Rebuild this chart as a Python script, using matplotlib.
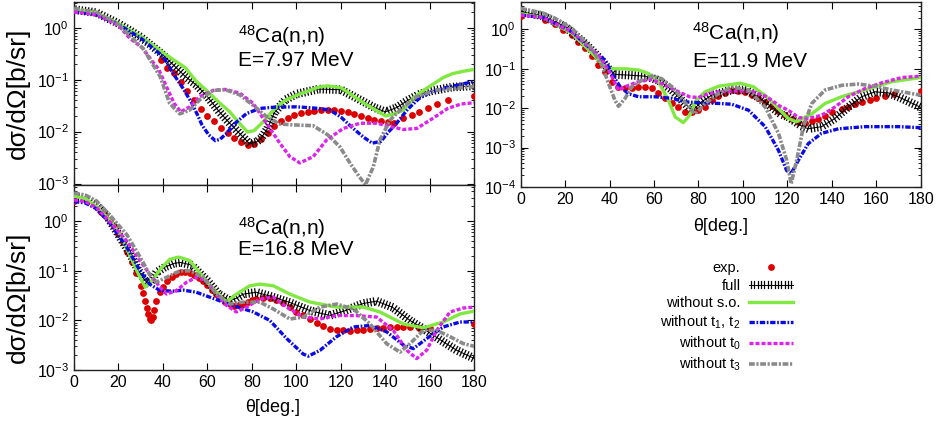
import numpy as np
import matplotlib
matplotlib.use("Agg")
import matplotlib.pyplot as plt
import matplotlib.patheffects as pe
from matplotlib.ticker import LogLocator, FixedLocator, NullFormatter

plt.rcParams['font.family'] = ['Liberation Sans', 'DejaVu Sans']
plt.rcParams['mathtext.fontset'] = 'custom'
plt.rcParams['mathtext.rm'] = 'Liberation Sans'
plt.rcParams['mathtext.it'] = 'Liberation Sans:italic'
plt.rcParams['mathtext.bf'] = 'Liberation Sans:bold'

# ---------------- 7.97 MeV (top left) ----------------
e08_exp_ang = [0, 39, 42, 45, 48, 51, 54, 57, 60, 63, 66, 69, 72, 75, 78, 81, 84, 87, 90, 93, 96, 99, 102,
               105, 108, 111, 114, 117, 120, 123, 126, 129, 132, 135, 138, 141, 144, 148, 152, 155, 159,
               163, 168, 180]
e08_exp_val = [2.2, 0.234, 0.166, 0.132, 0.091, 0.060, 0.040, 0.0275, 0.020, 0.0158, 0.012, 0.0095, 0.0076,
               0.0063, 0.0055, 0.0058, 0.0071, 0.0095, 0.0126, 0.0158, 0.0186, 0.021, 0.023, 0.024, 0.025,
               0.0257, 0.0263, 0.0257, 0.025, 0.0234, 0.0219, 0.020, 0.018, 0.0166, 0.0158, 0.0151, 0.0145,
               0.018, 0.021, 0.0234, 0.0288, 0.034, 0.041, 0.049]
e08_full_ang = [0, 10, 20, 30, 40, 50, 55, 60, 65, 70, 75, 79, 82, 84, 87, 90, 95, 100, 110, 120, 130, 135,
                140, 145, 150, 155, 160, 170, 180]
e08_full_val = [2.24, 1.95, 1.2, 0.66, 0.30, 0.115, 0.079, 0.047, 0.025, 0.0145, 0.0087, 0.0058, 0.0063,
                0.0074, 0.0115, 0.023, 0.041, 0.053, 0.066, 0.064, 0.038, 0.029, 0.024, 0.029, 0.040,
                0.052, 0.060, 0.072, 0.076]
e08_noso_ang = [0, 10, 20, 30, 40, 50, 55, 60, 65, 70, 75, 78, 81, 85, 90, 95, 100, 110, 114, 120, 130, 135,
                140, 144, 148, 152, 156, 160, 166, 170, 175, 180]
e08_noso_val = [2.24, 1.95, 1.2, 0.68, 0.33, 0.17, 0.092, 0.06, 0.037, 0.024, 0.0135, 0.0098, 0.0105,
                0.0155, 0.027, 0.040, 0.050, 0.072, 0.076, 0.070, 0.036, 0.027, 0.020, 0.022, 0.026, 0.042,
                0.058, 0.075, 0.11, 0.13, 0.145, 0.158]
e08_t12_ang = [0, 10, 20, 30, 40, 45, 49, 53, 55.5, 57.5, 60.5, 63.5, 65.6, 68.6, 71.6, 77.6, 83.6, 90, 100,
               110, 115, 120, 125, 130, 134, 138, 141, 145, 150, 155, 160, 166, 172, 180]
e08_t12_val = [2.0, 1.8, 1.15, 0.63, 0.28, 0.123, 0.068, 0.035, 0.021, 0.0135, 0.0087, 0.0067, 0.0071,
               0.0093, 0.0135, 0.0224, 0.028, 0.0295, 0.030, 0.028, 0.026, 0.019, 0.012, 0.0079, 0.006,
               0.0065, 0.0095, 0.0145, 0.027, 0.043, 0.057, 0.068, 0.078, 0.093]
e08_t0_ang = [0, 10, 20, 25, 31, 35, 38, 41.5, 45, 48, 52, 56.5, 62.5, 68, 74.5, 80.5, 86.5, 92.5, 97, 101.5,
              107.5, 113.5, 121, 128.5, 136, 142, 148, 154, 160, 168, 174, 180]
e08_t0_val = [2.0, 1.8, 1.1, 0.63, 0.40, 0.23, 0.16, 0.074, 0.035, 0.024, 0.030, 0.047, 0.062, 0.065, 0.055,
              0.035, 0.0145, 0.006, 0.0033, 0.0025, 0.0033, 0.0069, 0.0115, 0.0145, 0.0145, 0.0126, 0.011,
              0.0115, 0.0166, 0.028, 0.034, 0.036]
e08_t3_ang = [0, 10, 20, 25, 31, 35, 38.7, 43, 47.5, 52, 56.5, 62.5, 68, 74.5, 80.5, 86.5, 92.5, 98.5, 107.5,
              114, 119.5, 124, 128, 131, 134.5, 137.5, 142, 148, 154, 163, 180]
e08_t3_val = [2.35, 2.0, 1.15, 0.70, 0.40, 0.21, 0.115, 0.035, 0.022, 0.026, 0.041, 0.062, 0.064, 0.051,
              0.032, 0.0195, 0.014, 0.0135, 0.013, 0.0087, 0.0051, 0.0025, 0.0014, 0.00095, 0.0021, 0.0069,
              0.0166, 0.030, 0.047, 0.063, 0.074]

# ---------------- 16.8 MeV (bottom left) ----------------
e16_exp_ang = [0, 12, 14, 16, 18, 20, 22, 24, 26, 28, 30, 31, 32, 32.7, 33.4, 34, 34.6, 35.3, 36, 37, 38.5,
               40, 42, 44, 46, 48, 50, 52, 54, 56, 58, 60, 62, 64, 66, 68, 70, 72, 74, 76, 78, 80, 82, 85,
               88, 91, 94, 97, 100, 103, 106, 109, 112, 115, 118, 121, 124, 127, 130, 133, 136, 139, 142,
               145, 148, 151, 155, 160, 180]
e16_exp_val = [2.57, 1.55, 1.35, 1.07, 0.79, 0.56, 0.38, 0.24, 0.151, 0.091, 0.050, 0.036, 0.025, 0.018,
               0.0135, 0.0105, 0.010, 0.0115, 0.0165, 0.025, 0.038, 0.048, 0.063, 0.076, 0.087, 0.093,
               0.093, 0.089, 0.081, 0.072, 0.063, 0.051, 0.042, 0.034, 0.028, 0.024, 0.021, 0.020, 0.0204,
               0.0219, 0.024, 0.0263, 0.0275, 0.028, 0.028, 0.0263, 0.0224, 0.019, 0.0151, 0.0126, 0.0105,
               0.0087, 0.0076, 0.0068, 0.0065, 0.0063, 0.0062, 0.0063, 0.0065, 0.0068, 0.0071, 0.0072,
               0.0074, 0.0074, 0.0074, 0.0074, 0.0072, 0.0071, 0.0083]
e16_full_ang = [0, 5, 10, 15, 20, 25, 29, 32, 34, 37, 41, 45, 48, 53, 57, 60, 65, 70, 73, 76, 82, 88, 97, 106,
                115, 122, 130, 136, 143, 151, 157, 166, 172, 180]
e16_full_val = [3.1, 2.9, 2.1, 1.26, 0.54, 0.23, 0.10, 0.063, 0.055, 0.093, 0.12, 0.142, 0.148, 0.13,
                0.085, 0.063, 0.034, 0.025, 0.028, 0.034, 0.037, 0.031, 0.023, 0.0158, 0.0126, 0.0158,
                0.022, 0.0245, 0.0186, 0.010, 0.0068, 0.0037, 0.0025, 0.0017]
e16_noso_ang = [0, 5, 10, 16, 20.7, 25, 29, 32, 35, 38.7, 43, 47, 52, 58, 64, 68.6, 73, 79, 83.6, 89.6, 97,
                106, 118, 130, 137.5, 148, 157, 166, 173.5, 180]
e16_noso_val = [3.2, 2.9, 2.0, 1.07, 0.54, 0.21, 0.085, 0.047, 0.063, 0.107, 0.17, 0.19, 0.162, 0.074,
                0.037, 0.0235, 0.034, 0.050, 0.054, 0.050, 0.034, 0.0235, 0.0186, 0.0186, 0.0148, 0.0085,
                0.0071, 0.0093, 0.0135, 0.0155]
e16_t12_ang = [0, 5, 10, 16, 23.7, 29.7, 34, 38.7, 44.6, 49, 55, 61, 67, 73, 80.6, 88, 95.6, 103, 105.3,
               110.6, 118, 125.6, 133, 140.5, 148, 152.5, 158.5, 166, 173.5, 180]
e16_t12_val = [2.5, 2.35, 1.8, 0.93, 0.30, 0.10, 0.054, 0.040, 0.039, 0.041, 0.037, 0.0295, 0.0235, 0.019,
               0.0148, 0.010, 0.0043, 0.0021, 0.0019, 0.0025, 0.0047, 0.0074, 0.0079, 0.0059, 0.0032,
               0.0027, 0.0043, 0.0074, 0.0093, 0.0093]
e16_t0_ang = [0, 5, 10, 16, 23.7, 29.7, 34, 38.7, 41.6, 46, 50.6, 55, 59.6, 64, 68.6, 73, 77.6, 83.6, 89.6,
              95.6, 103, 110.6, 118, 127, 136, 143.5, 149.6, 154, 158.5, 163, 169, 175, 180]
e16_t0_val = [2.7, 2.5, 1.9, 1.0, 0.40, 0.16, 0.085, 0.047, 0.034, 0.040, 0.059, 0.074, 0.063, 0.034, 0.020,
              0.0148, 0.0186, 0.027, 0.0295, 0.0186, 0.0117, 0.0107, 0.0126, 0.0125, 0.0117, 0.0063,
              0.0025, 0.0017, 0.0025, 0.0063, 0.0148, 0.0178, 0.0186]
e16_t3_ang = [0, 5, 10, 16, 23.7, 29.7, 34, 37, 41.6, 47.6, 52, 58, 64, 70, 76, 83.6, 89.6, 97, 103, 110.6,
              118, 125.6, 133, 140.5, 146.5, 151, 157, 163, 169, 175, 180]
e16_t3_val = [3.7, 3.4, 2.6, 1.35, 0.54, 0.19, 0.085, 0.059, 0.074, 0.10, 0.10, 0.074, 0.034, 0.0214,
              0.0234, 0.0234, 0.017, 0.0107, 0.0117, 0.0186, 0.0214, 0.017, 0.0085, 0.0034, 0.0023,
              0.0034, 0.0063, 0.0063, 0.0047, 0.0034, 0.0030]

# ---------------- 11.9 MeV (right) ----------------
e11_exp_ang = [0, 11, 15.5, 19, 23, 26, 29, 32, 35, 38, 41, 44, 47, 50, 53, 56, 59, 62, 65, 68, 71, 74, 77,
               80, 83, 86, 89, 92, 95, 98, 101, 104, 107, 110, 113, 116, 119, 122, 125, 128, 131, 134,
               137, 140, 144.4, 147.4, 150.4, 153.4, 157, 160, 164, 168, 180]
e11_exp_val = [2.2, 1.78, 1.38, 0.95, 0.72, 0.49, 0.33, 0.21, 0.126, 0.083, 0.047, 0.034, 0.0316, 0.033,
               0.0355, 0.0355, 0.0316, 0.024, 0.0178, 0.0138, 0.0107, 0.0079, 0.0079, 0.0089, 0.011,
               0.0158, 0.020, 0.025, 0.029, 0.028, 0.026, 0.0219, 0.018, 0.0145, 0.0112, 0.0087, 0.0066,
               0.0052, 0.0045, 0.0041, 0.0046, 0.0054, 0.0065, 0.0079, 0.0093, 0.0107, 0.0126, 0.0145,
               0.0166, 0.0178, 0.0204, 0.0234, 0.0275]
e11_full_ang = [0, 10, 20, 29, 35, 39.5, 42.4, 48.5, 56, 62, 68, 72.5, 76, 77.5, 81.4, 86, 95.7, 101.7, 109,
                116.7, 120.4, 126.4, 129.4, 135.4, 141.4, 147.4, 153.4, 159.4, 165.4, 171.4, 180]
e11_full_val = [2.8, 2.2, 1.17, 0.44, 0.20, 0.10, 0.072, 0.069, 0.065, 0.051, 0.029, 0.0158, 0.010, 0.0089,
                0.0145, 0.0214, 0.0295, 0.0288, 0.0158, 0.0072, 0.0060, 0.0035, 0.0030, 0.0034, 0.0055,
                0.0107, 0.0195, 0.026, 0.0245, 0.0178, 0.0105]
e11_noso_ang = [0, 10, 23, 32, 38, 41, 47, 53, 57.5, 62, 66.5, 69.5, 73.2, 76, 79, 83, 89, 98.7, 104.7,
                110.7, 116.7, 120.4, 124, 131, 137, 144.4, 152, 159.4, 167, 180]
e11_noso_val = [2.5, 2.0, 0.80, 0.25, 0.11, 0.10, 0.10, 0.093, 0.076, 0.047, 0.0158, 0.0060, 0.0043,
                0.0066, 0.0158, 0.026, 0.036, 0.043, 0.035, 0.0195, 0.0089, 0.0055, 0.0045, 0.0072, 0.0132,
                0.0195, 0.026, 0.035, 0.047, 0.060]
e11_t12_ang = [0, 10, 23, 32, 38, 41, 44.7, 48.5, 53, 60.4, 68, 74, 80, 89, 95, 102.5, 110, 116, 119.7,
               121.7, 125, 129.4, 135.4, 143, 155, 170, 180]
e11_t12_val = [2.3, 2.0, 0.87, 0.30, 0.166, 0.076, 0.035, 0.0234, 0.0195, 0.0195, 0.0178, 0.0145, 0.0138,
               0.0132, 0.0126, 0.0089, 0.0034, 0.00085, 0.00026, 0.00022, 0.00048, 0.00126, 0.0023,
               0.0030, 0.0034, 0.0034, 0.0032]
e11_t0_ang = [0, 10, 23, 35, 39.5, 44, 48.5, 53, 59, 65, 71, 76, 80, 84.4, 89, 98.7, 104.7, 110.7, 116.7,
              120.4, 125, 129.4, 135.4, 141.4, 147.4, 155, 162.5, 171.5, 180]
e11_t0_val = [2.3, 2.0, 0.87, 0.22, 0.093, 0.029, 0.038, 0.047, 0.054, 0.038, 0.026, 0.0195, 0.0186,
              0.0234, 0.026, 0.0275, 0.026, 0.0195, 0.0112, 0.0089, 0.0058, 0.0055, 0.0066, 0.0107,
              0.0195, 0.0316, 0.044, 0.060, 0.065]
e11_t3_ang = [0, 10, 15.5, 23, 32, 36.5, 39.5, 42.4, 44, 47, 50, 54.5, 59, 63.4, 68, 72.5, 76, 78.5, 83, 89,
              95, 102.5, 110, 116, 119.7, 121.7, 124.2, 127.2, 131, 137, 144.4, 152, 159.4, 167, 180]
e11_t3_val = [3.4, 2.6, 1.9, 1.07, 0.33, 0.123, 0.043, 0.0158, 0.0112, 0.0178, 0.035, 0.051, 0.065, 0.056,
              0.035, 0.0178, 0.010, 0.0072, 0.0132, 0.0234, 0.034, 0.029, 0.0107, 0.0023, 0.00048,
              0.00012, 0.00048, 0.0034, 0.0132, 0.029, 0.038, 0.041, 0.036, 0.029, 0.0214]

labels = ["exp.", "full", "without s.o.", "without t$_1$, t$_2$", "without t$_0$", "without t$_3$"]
x_ticks = [0, 20, 40, 60, 80, 100, 120, 140, 160, 180]

# ---------------- styles ----------------
RED = '#dd0000'
GREEN = '#80e840'
BLUE = '#0a0ae6'
MAGENTA = '#dd22ee'
GRAY = '#8a8a8a'
tick_fx = [pe.Normal(),
           pe.TickedStroke(spacing=2.3, angle=90, length=1.15, linewidth=0.9),
           pe.TickedStroke(spacing=2.3, angle=-90, length=1.15, linewidth=0.9)]

W, H = 953, 424
fig = plt.figure(figsize=(W / 100, H / 100), dpi=100)


def ax_rect(l, r, t, b):
    return [l / W, 1 - b / H, (r - l) / W, (b - t) / H]


def draw(ax, exp, full, noso, t12, t0, t3):
    hs = []
    hs.append(ax.plot(exp[0], exp[1], ls='none', marker='o', ms=4.9, mew=0, color=RED, zorder=3)[0])
    hs.append(ax.plot(full[0], full[1], color='black', lw=0.7, path_effects=tick_fx, zorder=4)[0])
    hs.append(ax.plot(noso[0], noso[1], color=GREEN, lw=2.4, zorder=5)[0])
    hs.append(ax.plot(t12[0], t12[1], color=BLUE, lw=2.4, dashes=(1.6, 0.5, 0.5, 0.5),
                      dash_capstyle='butt', zorder=6)[0])
    hs.append(ax.plot(t0[0], t0[1], color=MAGENTA, lw=2.4, dashes=(1.2, 0.6),
                      dash_capstyle='butt', zorder=7)[0])
    hs.append(ax.plot(t3[0], t3[1], color=GRAY, lw=2.6, dashes=(1.6, 0.45, 0.6, 0.45),
                      dash_capstyle='butt', zorder=8)[0])
    ax.set_yscale('log')
    ax.set_xlim(0, 180)
    ax.xaxis.set_major_locator(FixedLocator(x_ticks))
    ax.yaxis.set_major_locator(LogLocator(base=10, numticks=10))
    ax.yaxis.set_minor_locator(LogLocator(base=10, subs=np.arange(2, 10), numticks=20))
    ax.yaxis.set_minor_formatter(NullFormatter())
    ax.tick_params(which='both', direction='in', top=True, right=True, labelsize=11.5)
    ax.tick_params(which='major', length=5, width=0.8)
    ax.tick_params(which='minor', length=2.5, width=0.6)
    for s in ax.spines.values():
        s.set_linewidth(1.0)
        s.set_color('#222222')
    return hs


ax1 = fig.add_axes(ax_rect(74, 474.5, 2, 185))
hs = draw(ax1, (e08_exp_ang, e08_exp_val), (e08_full_ang, e08_full_val), (e08_noso_ang, e08_noso_val),
          (e08_t12_ang, e08_t12_val), (e08_t0_ang, e08_t0_val), (e08_t3_ang, e08_t3_val))
ax1.set_ylim(9.4e-4, 3.12)
ax1.tick_params(labelbottom=False)

ax2 = fig.add_axes(ax_rect(74, 474.5, 185, 370))
draw(ax2, (e16_exp_ang, e16_exp_val), (e16_full_ang, e16_full_val), (e16_noso_ang, e16_noso_val),
     (e16_t12_ang, e16_t12_val), (e16_t0_ang, e16_t0_val), (e16_t3_ang, e16_t3_val))
ax2.set_ylim(1.0e-3, 5.4)

ax3 = fig.add_axes(ax_rect(520.7, 920.7, 2, 187))
draw(ax3, (e11_exp_ang, e11_exp_val), (e11_full_ang, e11_full_val), (e11_noso_ang, e11_noso_val),
     (e11_t12_ang, e11_t12_val), (e11_t0_ang, e11_t0_val), (e11_t3_ang, e11_t3_val))
ax3.set_ylim(1.0e-4, 4.95)

# annotations
ax1.text(0.41, 0.815, r'$^{48}$Ca(n,n)', transform=ax1.transAxes, fontsize=15, va='center', ha='left')
ax1.text(0.41, 0.68, 'E=7.97 MeV', transform=ax1.transAxes, fontsize=15, va='center', ha='left')
ax2.text(0.41, 0.765, r'$^{48}$Ca(n,n)', transform=ax2.transAxes, fontsize=15, va='center', ha='left')
ax2.text(0.41, 0.652, 'E=16.8 MeV', transform=ax2.transAxes, fontsize=15, va='center', ha='left')
ax3.text(0.4275, 0.83, r'$^{48}$Ca(n,n)', transform=ax3.transAxes, fontsize=15, va='center', ha='left')
ax3.text(0.431, 0.678, 'E=11.9 MeV', transform=ax3.transAxes, fontsize=15, va='center', ha='left')

# axis labels
fig.text(18 / W, 1 - 93.5 / H, 'dσ/dΩ[b/sr]', rotation=90, va='center', ha='center', fontsize=19)
fig.text(18 / W, 1 - 297 / H, 'dσ/dΩ[b/sr]', rotation=90, va='center', ha='center', fontsize=19)
fig.text(273 / W, 1 - 408 / H, 'θ[deg.]', va='center', ha='center', fontsize=13)
fig.text(721 / W, 1 - 227 / H, 'θ[deg.]', va='center', ha='center', fontsize=13)

# legend
fig.legend(hs, labels, loc='upper right', bbox_to_anchor=(793 / W, 1 - 261 / H), frameon=False,
           markerfirst=False, fontsize=10.5, handlelength=3.0, handletextpad=0.6, labelspacing=0.25,
           borderpad=0, borderaxespad=0, numpoints=1)

fig.savefig('out.png', dpi=100)
